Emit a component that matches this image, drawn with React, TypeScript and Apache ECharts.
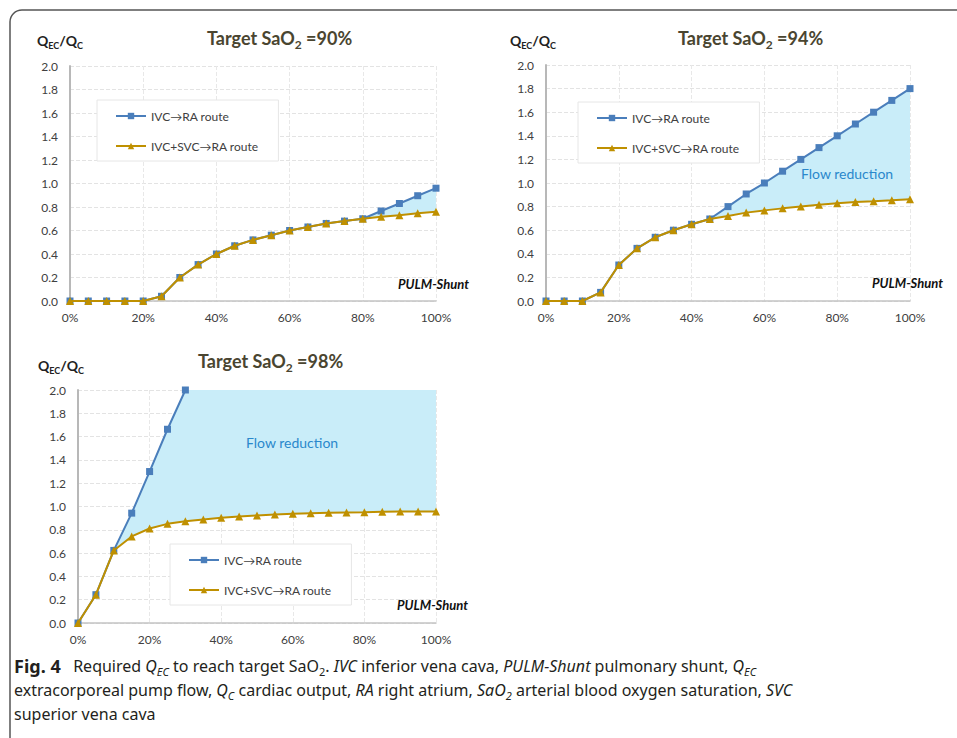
import React, { useEffect, useRef } from 'react';
import * as echarts from 'echarts';

// PULM-Shunt categories (%)
const shunt = [0, 5, 10, 15, 20, 25, 30, 35, 40, 45, 50, 55, 60, 65, 70, 75, 80, 85, 90, 95, 100];
const xLabels = shunt.map((v) => v + '%');

// Target SaO2 = 90%
const ivc90 = [0, 0, 0, 0, 0, 0.04, 0.2, 0.31, 0.4, 0.47, 0.52, 0.56, 0.6, 0.63, 0.66, 0.68, 0.7, 0.766, 0.83, 0.896, 0.96];
const both90 = [0, 0, 0, 0, 0, 0.04, 0.2, 0.31, 0.4, 0.47, 0.52, 0.56, 0.6, 0.63, 0.66, 0.68, 0.7, 0.717, 0.73, 0.746, 0.76];

// Target SaO2 = 94%
const ivc94 = [0, 0, 0, 0.073, 0.305, 0.446, 0.54, 0.6, 0.65, 0.695, 0.8, 0.907, 1.0, 1.1, 1.2, 1.3, 1.4, 1.5, 1.6, 1.7, 1.8];
const both94 = [0, 0, 0, 0.073, 0.305, 0.446, 0.54, 0.6, 0.65, 0.695, 0.72, 0.749, 0.768, 0.785, 0.8, 0.816, 0.828, 0.839, 0.845, 0.853, 0.862];

// Target SaO2 = 98%
const ivc98 = [0, 0.243, 0.623, 0.943, 1.3, 1.663, 2.0];
const both98 = [0, 0.243, 0.623, 0.743, 0.811, 0.851, 0.874, 0.889, 0.903, 0.914, 0.923, 0.931, 0.937, 0.943, 0.946, 0.949, 0.951, 0.954, 0.957, 0.957, 0.957];

const yMin = 0;
const yMax = 2;
const yStep = 0.2;

const legendNames = ['IVC→RA route', 'IVC+SVC→RA route'];
const targets = ['90%', '94%', '98%'];

const BLUE = '#4a7ebb';
const GOLD = '#bf9000';
const FILL = '#c9edf9';
const TITLE_C = '#4a4530';
const TICK_C = '#404040';
const FONT = 'Lato';
const CAP_FONT = 'Noto Sans';

const panels = [
  { ivc: ivc90, both: both90, grid: { left: 70, top: 66, width: 366, height: 235 } },
  { ivc: ivc94, both: both94, grid: { left: 546, top: 65, width: 364, height: 236 } },
  { ivc: ivc98, both: both98, grid: { left: 78, top: 390, width: 358, height: 233 } },
];

const titlePos = [
  { left: 207, top: 25 },
  { left: 678, top: 25 },
  { left: 198, top: 348 },
];
const qPos = [
  { left: 37, top: 31 },
  { left: 510, top: 31 },
  { left: 38, top: 356 },
];
const pulmPos = [
  { right: 488, top: 277 },
  { right: 14, top: 276 },
  { right: 489, top: 598 },
];
const legendPos = [
  { left: 97, top: 100 },
  { left: 578, top: 102 },
  { left: 170, top: 544 },
];
const flowPos = [null, { left: 801, top: 166 }, { left: 246, top: 435 }];

function buildOption() {
  const titles: any[] = [];
  panels.forEach((_, k) => {
    titles.push({
      text: '{t|Target SaO}{s|2}{t| =' + targets[k] + '}',
      left: titlePos[k].left,
      top: titlePos[k].top,
      padding: 0,
      textStyle: {
        rich: {
          t: { fontFamily: FONT, fontSize: 18, fontWeight: 'bold', color: TITLE_C, lineHeight: 25 },
          s: { fontFamily: FONT, fontSize: 12, fontWeight: 'bold', color: TITLE_C, verticalAlign: 'bottom', lineHeight: 12 },
        },
      },
    });
    titles.push({
      text: '{q|Q}{s|EC}{q|/Q}{s|C}',
      left: qPos[k].left,
      top: qPos[k].top,
      padding: 0,
      textStyle: {
        rich: {
          q: { fontFamily: FONT, fontSize: 14, fontWeight: 'bold', color: '#222', lineHeight: 19 },
          s: { fontFamily: FONT, fontSize: 9, fontWeight: 'bold', color: '#222', verticalAlign: 'bottom', lineHeight: 10 },
        },
      },
    });
    titles.push({
      text: 'PULM-Shunt',
      right: pulmPos[k].right,
      top: pulmPos[k].top,
      padding: 0,
      textStyle: { fontFamily: FONT, fontSize: 13, fontWeight: 'bold', fontStyle: 'italic', color: '#111' },
    });
    const fp = flowPos[k];
    if (fp) {
      titles.push({
        text: 'Flow reduction',
        left: fp.left,
        top: fp.top,
        padding: 0,
        textStyle: { fontFamily: FONT, fontSize: 14, fontWeight: 'normal', color: '#2a88cc' },
      });
    }
  });

  const base = { fontFamily: CAP_FONT, color: '#231f20', fontWeight: 'normal', fontStyle: 'normal' };
  const capRich = {
    n: { ...base, fontSize: 16, lineHeight: 23 },
    b: { ...base, fontSize: 18, fontWeight: 'bold', lineHeight: 23 },
    i: { ...base, fontSize: 16, fontStyle: 'italic', lineHeight: 23 },
    s: { ...base, fontSize: 11, verticalAlign: 'bottom', lineHeight: 11 },
    is: { ...base, fontSize: 11, fontStyle: 'italic', verticalAlign: 'bottom', lineHeight: 11 },
  };
  const capLines = [
    '{b|Fig. 4}{n|   Required }{i|Q}{is|EC}{n| to reach target SaO}{s|2}{n|. }{i|IVC}{n| inferior vena cava, }{i|PULM-Shunt}{n| pulmonary shunt, }{i|Q}{is|EC}',
    '{n|extracorporeal pump flow, }{i|Q}{is|C}{n| cardiac output, }{i|RA}{n| right atrium, }{i|SaO}{is|2}{n| arterial blood oxygen saturation, }{i|SVC}',
    '{n|superior vena cava}',
  ];
  capLines.forEach((t, i) => {
    titles.push({
      text: t,
      left: 14,
      top: 654 + i * 24,
      padding: 0,
      textStyle: { fontWeight: 'normal', fontSize: 16, rich: capRich },
    });
  });

  const xAxis: any[] = [];
  const yAxis: any[] = [];
  const series: any[] = [];
  const legend: any[] = [];

  panels.forEach((p, k) => {
    xAxis.push({
      type: 'category',
      gridIndex: k,
      data: xLabels,
      boundaryGap: false,
      axisTick: { show: false },
      axisLine: { lineStyle: { color: '#c4c4c4', width: 1.5 } },
      axisLabel: { interval: 3, color: TICK_C, fontFamily: FONT, fontSize: 12, margin: 10 },
      splitLine: { show: true, interval: 3, lineStyle: { type: 'dashed', color: '#e8e8e8', width: 1 } },
    });
    yAxis.push({
      type: 'value',
      gridIndex: k,
      min: yMin,
      max: yMax,
      interval: yStep,
      axisTick: { show: false },
      axisLine: { show: true, lineStyle: { color: '#b8b8b8', width: 2 } },
      axisLabel: {
        color: TICK_C,
        fontFamily: FONT,
        fontSize: 12,
        margin: 12,
        formatter: (v: number) => v.toFixed(1),
      },
      splitLine: { show: true, lineStyle: { type: 'dashed', color: '#e3e3e3', width: 1 } },
    });

    const top = p.both.map((_, i) => (i < p.ivc.length ? p.ivc[i] : yMax));
    const diff = p.both.map((b, i) => Math.max(0, +(top[i] - b).toFixed(4)));

    series.push({
      type: 'line',
      xAxisIndex: k,
      yAxisIndex: k,
      data: p.both,
      stack: 'fill' + k,
      symbol: 'none',
      lineStyle: { opacity: 0 },
      silent: true,
      z: 1,
    });
    series.push({
      type: 'line',
      xAxisIndex: k,
      yAxisIndex: k,
      data: diff,
      stack: 'fill' + k,
      symbol: 'none',
      lineStyle: { opacity: 0 },
      areaStyle: { color: FILL, opacity: 1 },
      silent: true,
      z: 1,
    });
    series.push({
      name: legendNames[0],
      type: 'line',
      xAxisIndex: k,
      yAxisIndex: k,
      data: p.ivc,
      symbol: 'rect',
      symbolSize: 7,
      itemStyle: { color: BLUE },
      lineStyle: { color: BLUE, width: 2 },
      z: 3,
    });
    series.push({
      name: legendNames[1],
      type: 'line',
      xAxisIndex: k,
      yAxisIndex: k,
      data: p.both,
      symbol: 'triangle',
      symbolSize: 8,
      itemStyle: { color: GOLD },
      lineStyle: { color: GOLD, width: 2 },
      z: 4,
    });

    legend.push({
      data: legendNames,
      orient: 'vertical',
      left: legendPos[k].left,
      top: legendPos[k].top,
      padding: [10, 20, 9, 18],
      itemGap: 18,
      itemWidth: 30,
      itemHeight: 8,
      borderColor: '#e6e6e6',
      borderWidth: 1,
      backgroundColor: '#ffffff',
      selectedMode: false,
      textStyle: { fontFamily: FONT, fontSize: 12, color: TICK_C },
    });
  });

  return {
    animation: false,
    backgroundColor: '#ffffff',
    title: titles,
    grid: panels.map((p) => ({ ...p.grid, containLabel: false })),
    xAxis,
    yAxis,
    legend,
    series,
    graphic: [
      {
        type: 'rect',
        shape: { x: 10, y: 10, width: 1100, height: 900, r: [12, 0, 0, 0] },
        style: { fill: 'none', stroke: '#555', lineWidth: 1.5 },
        silent: true,
      },
    ],
  };
}

export default function App() {
  const ref = useRef<HTMLDivElement>(null);
  useEffect(() => {
    if (!ref.current) return;
    const chart = echarts.init(ref.current, undefined, { renderer: 'svg' });
    chart.setOption(buildOption() as any);
    return () => chart.dispose();
  }, []);
  return (
    <div
      ref={ref}
      style={{ position: 'absolute', left: 0, top: 0, width: 957, height: 738, background: '#fff' }}
    />
  );
}
